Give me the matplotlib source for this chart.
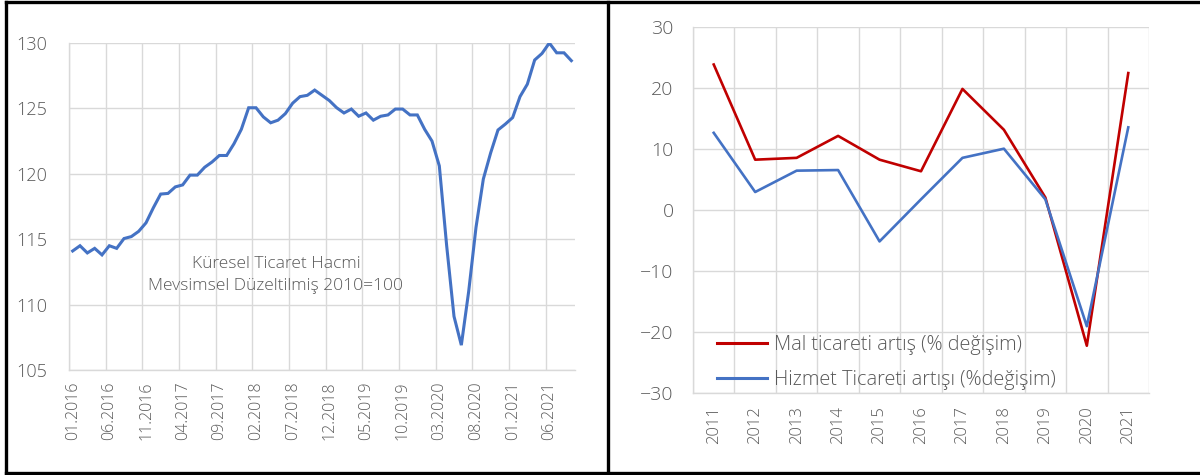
import numpy as np
import pandas as pd
import matplotlib
matplotlib.use("Agg")
import matplotlib.pyplot as plt
from matplotlib.lines import Line2D

# =============================================================================
# Data
# =============================================================================

# monthly global trade volume index, 01.2016 - 09.2021
months = list(pd.date_range("2016-01-01", periods=69, freq="MS").strftime("%m.%Y"))
trade_volume = [
    114.1, 114.5, 113.95, 114.3, 113.8, 114.5, 114.3, 115.05, 115.2, 115.6,
    116.25, 117.4, 118.45, 118.5, 119.0, 119.15, 119.9, 119.9, 120.5, 120.9,
    121.4, 121.4, 122.3, 123.4, 125.05, 125.05, 124.35, 123.9, 124.1, 124.6,
    125.4, 125.9, 126.0, 126.4, 126.0, 125.6, 125.05, 124.65, 124.95, 124.4,
    124.65, 124.1, 124.4, 124.5, 124.95, 124.95, 124.5, 124.5, 123.4, 122.5,
    120.6, 114.5, 109.1, 106.9, 111.0, 115.9, 119.6, 121.6, 123.35, 123.8,
    124.3, 125.9, 126.85, 128.7, 129.2, 130.0, 129.25, 129.25, 128.65,
]
left_note = "Küresel Ticaret Hacmi\nMevsimsel Düzeltilmiş 2010=100"

# yearly growth, % change
years = ["2011", "2012", "2013", "2014", "2015", "2016",
         "2017", "2018", "2019", "2020", "2021"]
goods_growth = [23.8, 8.2, 8.5, 12.1, 8.2, 6.3, 19.8, 13.1, 2.0, -22.3, 22.4]
services_growth = [12.6, 2.9, 6.4, 6.5, -5.2, 1.7, 8.5, 10.0, 1.7, -19.1, 13.5]
goods_label = "Mal ticareti artış (% değişim)"
services_label = "Hizmet Ticareti artışı (%değişim)"

# =============================================================================
# Style
# =============================================================================

plt.rcParams["font.family"] = ["Open Sans", "DejaVu Sans"]
TXT = "#595959"
GRID = "#D9D9D9"
BLUE = "#4472C4"
RED = "#C00000"

fig = plt.figure(figsize=(12, 4.75), dpi=100)


def style_axes(ax):
    for side in ["top", "right"]:
        ax.spines[side].set_visible(False)
    for side in ["left", "bottom"]:
        ax.spines[side].set_color(GRID)
        ax.spines[side].set_linewidth(1.0)
    ax.tick_params(which="both", length=0, colors=TXT)
    ax.set_axisbelow(True)


# =============================================================================
# Left panel: trade volume
# =============================================================================

ax1 = fig.add_axes([69 / 1200, 105 / 475, 506 / 1200, 327 / 475])
x1 = np.arange(len(months))
ax1.plot(x1, trade_volume, color=BLUE, lw=2.2, solid_joinstyle="miter")
ax1.set_xlim(-0.5, len(months) - 0.5)
ax1.set_ylim(105, 130)
ax1.set_yticks(np.arange(105, 131, 5))
ax1.set_xticks(x1[::5])
ax1.set_xticklabels(months[::5], rotation=90, fontsize=11.5, color=TXT,
                    fontweight="light")
ax1.set_xticks(np.arange(-0.5, len(months) - 1, 5), minor=True)
ax1.grid(True, which="minor", axis="x", color=GRID, lw=1.0)
ax1.grid(True, which="major", axis="y", color=GRID, lw=1.0)
for lab in ax1.get_yticklabels():
    lab.set_fontsize(13)
    lab.set_fontweight("light")
ax1.tick_params(axis="y", pad=16)
ax1.tick_params(axis="x", pad=8)
style_axes(ax1)
ax1.text(0.409, 0.29, left_note, transform=ax1.transAxes, ha="center",
         va="center", fontsize=12.5, color=TXT, fontweight="light",
         linespacing=1.55)

# =============================================================================
# Right panel: goods vs services growth
# =============================================================================

ax2 = fig.add_axes([693 / 1200, 82.3 / 475, 456 / 1200, 366 / 475])
x2 = np.arange(len(years))
ax2.plot(x2, goods_growth, color=RED, lw=1.9, label=goods_label)
ax2.plot(x2, services_growth, color=BLUE, lw=1.9, label=services_label)
ax2.set_xlim(-0.5, len(years) - 0.5)
ax2.set_ylim(-30, 30)
ax2.set_yticks(np.arange(-30, 31, 10))
ax2.set_xticks(x2)
ax2.set_xticklabels(years, rotation=90, fontsize=12, color=TXT,
                    fontweight="light")
ax2.set_xticks(np.arange(-0.5, len(years), 1), minor=True)
ax2.grid(True, which="minor", axis="x", color=GRID, lw=1.0)
ax2.grid(True, which="major", axis="y", color=GRID, lw=1.0)
for lab in ax2.get_yticklabels():
    lab.set_fontsize(14)
    lab.set_fontweight("light")
ax2.tick_params(axis="y", pad=14)
ax2.tick_params(axis="x", pad=10)
style_axes(ax2)
leg = ax2.legend(loc="lower left", bbox_to_anchor=(0.035, -0.015), frameon=False,
                 fontsize=14.3, handlelength=2.5, handletextpad=0.35,
                 labelspacing=0.75, borderaxespad=0.0)
for t in leg.get_texts():
    t.set_color(TXT)
    t.set_fontweight("light")
for h in leg.legend_handles:
    h.set_linewidth(2.2)

# =============================================================================
# Frame lines around the two panels
# =============================================================================

for xs, ys in [([0.005, 1.0], [0.996, 0.996]),
               ([0.005, 1.0], [0.004, 0.004]),
               ([0.005, 0.005], [0.004, 0.996]),
               ([0.5065, 0.5065], [0.004, 0.996])]:
    fig.add_artist(Line2D(xs, ys, transform=fig.transFigure, color="black",
                          lw=2.4))

fig.savefig("out.png", dpi=100)
